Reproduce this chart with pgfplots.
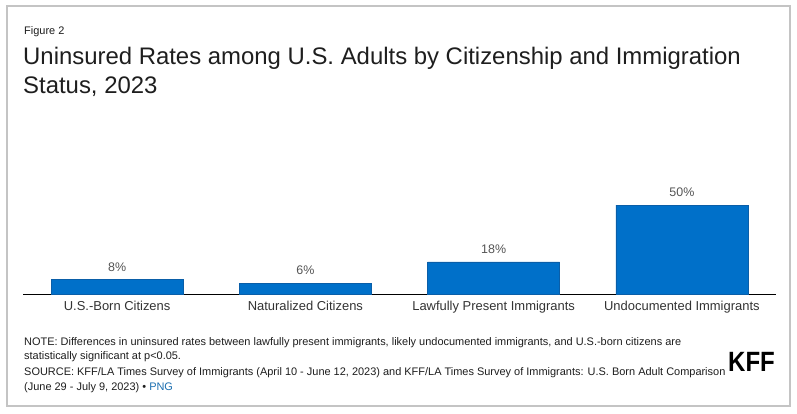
\documentclass[border=0pt]{standalone}
\usepackage{fontspec}
\setmainfont{Liberation Sans}
\usepackage{pgfplots}
\pgfplotsset{compat=1.18}
\definecolor{kffblue}{HTML}{0070C9}
\definecolor{kffedge}{HTML}{0A5EA8}
\definecolor{framegray}{HTML}{C4C4C4}
\definecolor{txt}{HTML}{1E1E1E}
\definecolor{ticktxt}{HTML}{333333}
\definecolor{lbl}{HTML}{555555}
\definecolor{linkblue}{HTML}{1A6EB0}
\begin{document}
\begin{tikzpicture}[x=1bp,y=1bp]
\useasboundingbox (0,0) rectangle (797,413);
\fill[white] (0,0) rectangle (797,413);
\draw[framegray, line width=1.5bp] (7,7) rectangle (790,407);
\node[anchor=base west, inner sep=0, text=txt, font=\fontsize{11}{13}\selectfont] at (24,379) {Figure 2};
\node[anchor=base west, inner sep=0, text=txt, font=\fontsize{24}{29}\selectfont] at (23,349) {Uninsured Rates among U.S. Adults by Citizenship and Immigration};
\node[anchor=base west, inner sep=0, text=txt, font=\fontsize{24}{29}\selectfont] at (23,320) {Status, 2023};
\begin{axis}[
  at={(23bp,119bp)}, anchor=south west,
  scale only axis, width=753bp, height=150bp,
  xmin=-0.5, xmax=3.5, ymin=0, ymax=84.27,
  hide y axis, axis x line*=bottom,
  x axis line style={black, line width=0.8bp},
  xtick={0,1,2,3},
  xticklabels={U.S.-Born Citizens, Naturalized Citizens, Lawfully Present Immigrants, Undocumented Immigrants},
  major tick length=0pt,
  xticklabel style={anchor=base, yshift=-16bp, text=ticktxt, font=\fontsize{13}{15}\selectfont},
  ybar, bar width=132bp,
  clip=false,
  /pgf/number format/assume math mode=true,
  nodes near coords={\pgfmathprintnumber{\pgfplotspointmeta}\%},
  every node near coord/.append style={anchor=base, yshift=8.5bp, text=lbl, font=\fontsize{12.5}{15}\selectfont},
]
\addplot[fill=kffblue, draw=kffedge, line width=0.6bp] coordinates {(0,8) (1,6) (2,18) (3,50)};
\end{axis}
\node[anchor=base west, inner sep=0, text=txt, font=\fontsize{11}{15}\selectfont] at (24,68) {NOTE: Differences in uninsured rates between lawfully present immigrants, likely undocumented immigrants, and U.S.-born citizens are};
\node[anchor=base west, inner sep=0, text=txt, font=\fontsize{11}{15}\selectfont] at (24,54) {statistically significant at p<0.05.};
\node[anchor=base west, inner sep=0, text=txt, font=\fontsize{11}{15}\selectfont] at (24,38) {SOURCE: KFF/LA Times Survey of Immigrants (April 10 - June 12, 2023) and KFF/LA Times Survey of Immigrants: U.S. Born Adult Comparison};
\node[anchor=base west, inner sep=0, text=txt, font=\fontsize{11}{15}\selectfont] at (24,23) {(June 29 - July 9, 2023) \textbullet\ \textcolor{linkblue}{PNG}};
\node[anchor=base west, inner sep=0, text=black] at (728,42) {\scalebox{0.86}[1]{\fontsize{28}{28}\selectfont\bfseries KFF}};
\end{tikzpicture}
\end{document}
